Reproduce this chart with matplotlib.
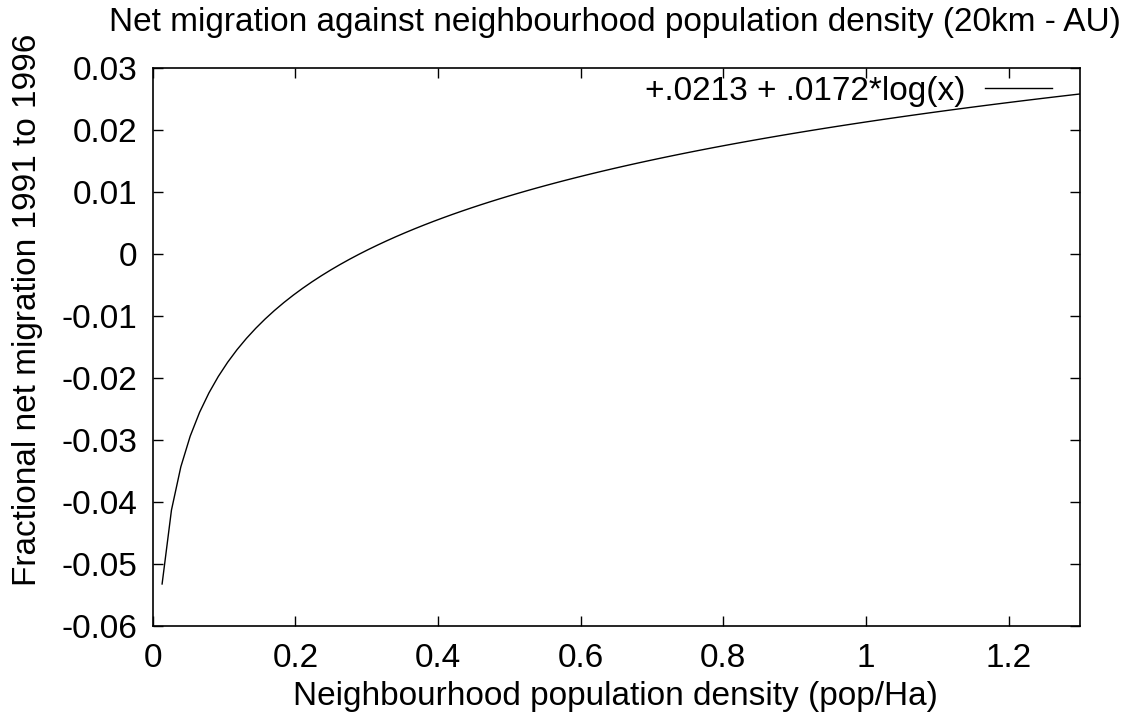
import numpy as np
import matplotlib.pyplot as plt

# Fit coefficients as given in the legend
intercept = 0.0213
slope = 0.0172
fit_label = '+.0213 + .0172*log(x)'

# gnuplot-style sampling: 100 samples over the x range, x=0 skipped (log undefined)
x_min, x_max = 0.0, 1.3
x = np.linspace(x_min, x_max, 100)[1:]
y = intercept + slope * np.log(x)

x_ticks = [0, 0.2, 0.4, 0.6, 0.8, 1, 1.2]
x_ticklabels = ['0', '0.2', '0.4', '0.6', '0.8', '1', '1.2']
y_ticks = [-0.06, -0.05, -0.04, -0.03, -0.02, -0.01, 0, 0.01, 0.02, 0.03]
y_ticklabels = ['-0.06', '-0.05', '-0.04', '-0.03', '-0.02', '-0.01', '0', '0.01', '0.02', '0.03']

plt.rcParams['font.family'] = ['Liberation Sans', 'DejaVu Sans']
fs = 24

fig = plt.figure(figsize=(11.28, 7.16), dpi=100)
ax = fig.add_axes([0.1354, 0.1257, 0.9574 - 0.1354, 0.905 - 0.1257])

ax.plot(x, y, color='black', lw=1.0, label=fit_label)

ax.set_xlim(x_min, x_max)
ax.set_ylim(-0.06, 0.03)
ax.set_xticks(x_ticks)
ax.set_xticklabels(x_ticklabels)
ax.set_yticks(y_ticks)
ax.set_yticklabels(y_ticklabels)

ax.tick_params(direction='in', length=7, width=1, top=True, right=True,
               labelsize=fs)
ax.tick_params(axis='y', pad=11)
ax.tick_params(axis='x', pad=12)
for s in ax.spines.values():
    s.set_linewidth(1.2)

# titles placed like gnuplot does
fig.text(0.545, 0.969, 'Net migration against neighbourhood population density (20km - AU)',
         fontsize=fs, ha='center', va='center')
fig.text(0.546, 0.027, 'Neighbourhood population density (pop/Ha)',
         fontsize=fs, ha='center', va='center')
fig.text(0.024, 0.567, 'Fractional net migration 1991 to 1996',
         fontsize=fs, ha='center', va='center', rotation=90)

ax.legend(loc='upper right', frameon=False, markerfirst=False, fontsize=fs,
          handlelength=2.0, handletextpad=0.6, borderpad=0,
          borderaxespad=0, bbox_to_anchor=(1 - 28 / 928, 1 - 8 / 558))

fig.savefig('out.png', dpi=100)
